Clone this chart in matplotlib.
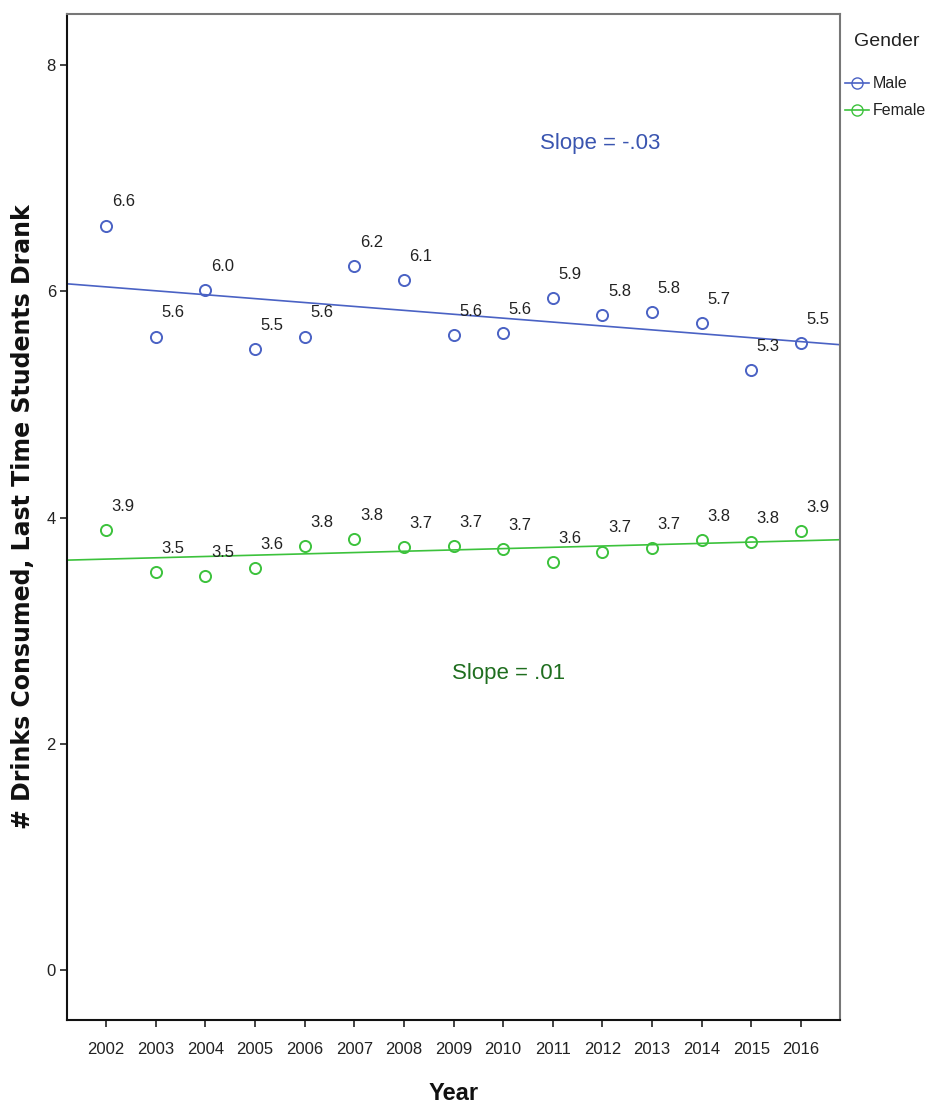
import numpy as np
import matplotlib
matplotlib.use("Agg")
import matplotlib.pyplot as plt
from matplotlib.lines import Line2D

plt.rcParams['font.family'] = ['Liberation Sans', 'DejaVu Sans']

years = [2002, 2003, 2004, 2005, 2006, 2007, 2008, 2009, 2010, 2011, 2012, 2013, 2014, 2015, 2016]
male = [6.58, 5.60, 6.01, 5.49, 5.60, 6.22, 6.10, 5.61, 5.63, 5.94, 5.79, 5.82, 5.72, 5.30, 5.54]
female = [3.89, 3.52, 3.48, 3.55, 3.75, 3.81, 3.74, 3.75, 3.72, 3.61, 3.70, 3.73, 3.80, 3.78, 3.88]
male_labels = ["6.6", "5.6", "6.0", "5.5", "5.6", "6.2", "6.1", "5.6", "5.6", "5.9", "5.8", "5.8", "5.7", "5.3", "5.5"]
female_labels = ["3.9", "3.5", "3.5", "3.6", "3.8", "3.8", "3.7", "3.7", "3.7", "3.6", "3.7", "3.7", "3.8", "3.8", "3.9"]
yticks = [0, 2, 4, 6, 8]

MALE_C = "#4a62c4"
FEMALE_C = "#3cc23c"

W, H = 931, 1108
fig = plt.figure(figsize=(W / 100, H / 100), dpi=100)
ax = fig.add_axes([67 / W, 1 - 1020 / H, (840 - 67) / W, (1020 - 14) / H])

x = np.array(years, dtype=float)
xl = (2001.21, 2016.79)
ax.set_xlim(*xl)
ax.set_ylim(-0.44, 8.45)

for vals, labs, col in [(male, male_labels, MALE_C), (female, female_labels, FEMALE_C)]:
    v = np.array(vals)
    ax.plot(x, v, linestyle='none', marker='o', markersize=8, markerfacecolor='none',
            markeredgecolor=col, markeredgewidth=1.4, zorder=3)
    b, a = np.polyfit(x, v, 1)
    xx = np.array(xl)
    ax.plot(xx, a + b * xx, color=col, lw=1.2, zorder=2)
    for xi, yi, t in zip(x, v, labs):
        ax.annotate(t, (xi, yi), xytext=(4, 17), textcoords='offset points',
                    fontsize=12, color='#222222', ha='left', va='center')

ax.text(2011.96, 7.31, "Slope = -.03", color="#3a55b0", fontsize=16, ha='center', va='center')
ax.text(2010.1, 2.62, "Slope = .01", color="#1f6e1f", fontsize=16, ha='center', va='center')

ax.set_xticks(years)
ax.set_xticklabels([str(y) for y in years], fontsize=12, color='#222222')
ax.set_yticks(yticks)
ax.set_yticklabels([str(t) for t in yticks], fontsize=12, color='#222222')
ax.tick_params(direction='out', length=5, width=1.2, color='#222222')
ax.tick_params(axis='x', pad=11)
ax.tick_params(axis='y', pad=3)
for s in ['left', 'bottom']:
    ax.spines[s].set_color('#111111')
    ax.spines[s].set_linewidth(1.5)
for s in ['top', 'right']:
    ax.spines[s].set_color('#777777')
    ax.spines[s].set_linewidth(1.5)

ax.set_xlabel("Year", fontsize=17, fontweight='bold', labelpad=18, color='#111111')
ax.set_ylabel("# Drinks Consumed, Last Time Students Drank", fontsize=17, fontweight='bold',
              family=['DejaVu Sans'], labelpad=8, color='#111111')

fig.text(887 / W, 1 - 42 / H, "Gender", fontsize=14, ha='center', va='center', color='#222222')
handles = [Line2D([0], [0], color=MALE_C, marker='o', markerfacecolor='none', markeredgecolor=MALE_C,
                  markersize=8, lw=1.2),
           Line2D([0], [0], color=FEMALE_C, marker='o', markerfacecolor='none', markeredgecolor=FEMALE_C,
                  markersize=8, lw=1.2)]
leg = fig.legend(handles, ["Male", "Female"], loc='upper left',
                 bbox_to_anchor=(842 / W, 1 - 73 / H), frameon=False, fontsize=11.5,
                 handlelength=1.5, handletextpad=0.25, labelspacing=0.75, borderaxespad=0,
                 borderpad=0.2)
for t in leg.get_texts():
    t.set_color('#222222')

fig.savefig("out.png", dpi=100)
